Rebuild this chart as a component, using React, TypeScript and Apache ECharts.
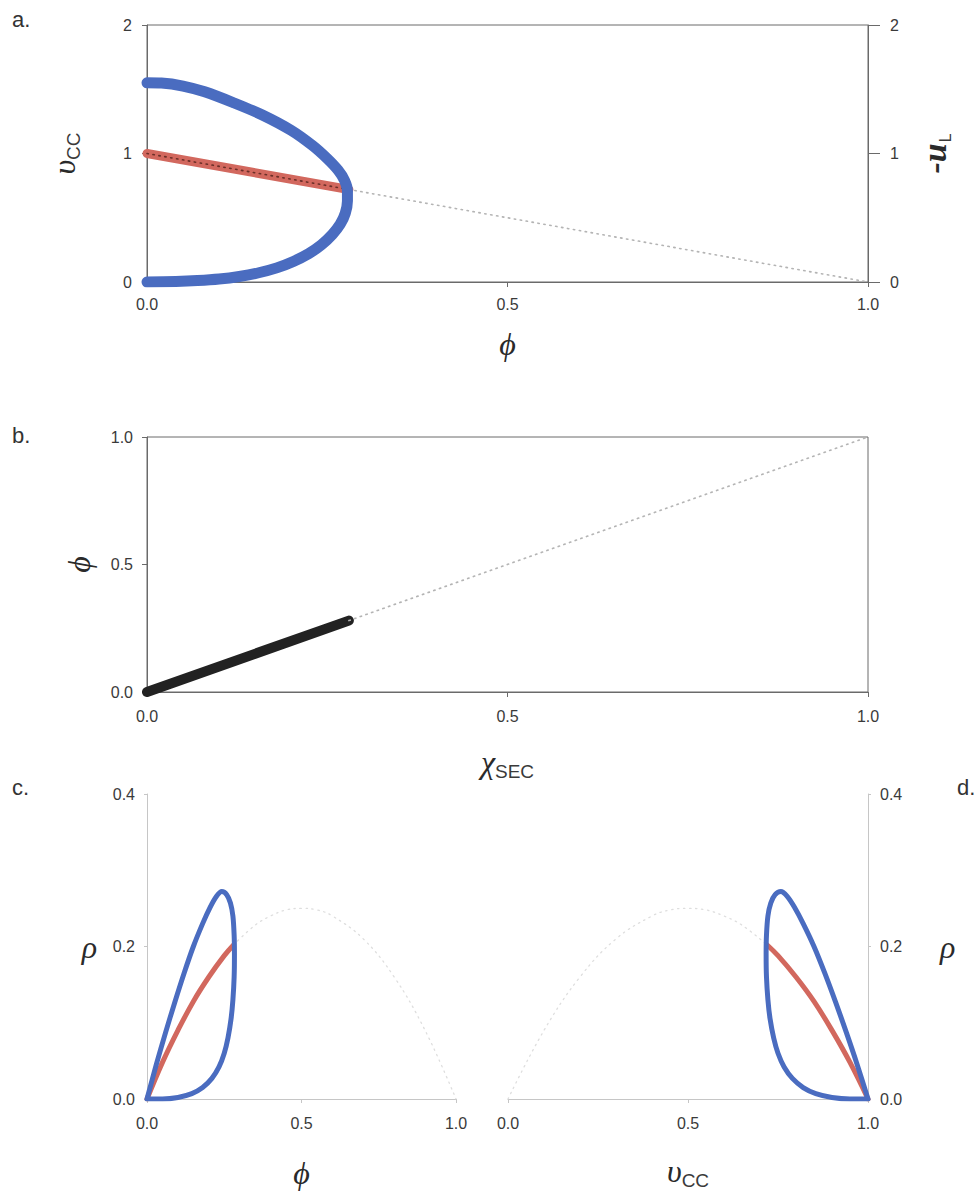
import React, { useEffect, useRef } from 'react';
import * as echarts from 'echarts';

// ---- Panel a: velocity branches against phi ----
const aBluePhi = [0, 0.02, 0.05, 0.08, 0.12, 0.16, 0.2, 0.23, 0.25, 0.265, 0.274, 0.278, 0.278, 0.275, 0.268, 0.257, 0.242, 0.224, 0.203, 0.18, 0.155, 0.128, 0.1, 0.07, 0.04, 0];
const aBlueV = [1.55, 1.548, 1.525, 1.48, 1.395, 1.3, 1.18, 1.06, 0.96, 0.87, 0.79, 0.71, 0.63, 0.535, 0.45, 0.37, 0.29, 0.22, 0.16, 0.11, 0.072, 0.043, 0.023, 0.011, 0.004, 0];
const aRedPhi = [0, 0.28];
const aRedV = [1, 0.72];
const aGuidePhi = [0.28, 1];
const aGuideV = [0.72, 0];

// ---- Panel b: phi against chi_SEC ----
const bChi = [0, 0.28];
const bPhi = [0, 0.28];
const bGuideChi = [0.28, 1];
const bGuidePhi = [0.28, 1];

// ---- Panel c: rho against phi ----
const cBluePhi = [0, 0.03, 0.06, 0.09, 0.12, 0.15, 0.18, 0.205, 0.225, 0.242, 0.258, 0.27, 0.278, 0.282, 0.283, 0.282, 0.278, 0.272, 0.262, 0.25, 0.233, 0.21, 0.18, 0.145, 0.1, 0.05, 0];
const cBlueRho = [0, 0.045, 0.087, 0.127, 0.165, 0.2, 0.23, 0.252, 0.266, 0.272, 0.268, 0.257, 0.24, 0.215, 0.19, 0.16, 0.13, 0.105, 0.08, 0.06, 0.042, 0.027, 0.015, 0.007, 0.002, 0, 0];
const cRedPhi = [0, 0.05, 0.1, 0.15, 0.2, 0.25, 0.28];
const cRedRho = [0, 0.048, 0.09, 0.128, 0.16, 0.188, 0.202];
const cGuidePhi = [0.28, 0.35, 0.4, 0.45, 0.5, 0.55, 0.6, 0.7, 0.8, 0.9, 1.0];
const cGuideRho = [0.202, 0.228, 0.24, 0.248, 0.25, 0.248, 0.24, 0.21, 0.16, 0.09, 0];

// ---- Panel d: rho against upsilon_CC ----
const dBlueV = [1, 0.97, 0.94, 0.91, 0.88, 0.85, 0.82, 0.795, 0.775, 0.758, 0.742, 0.73, 0.722, 0.718, 0.717, 0.718, 0.722, 0.728, 0.738, 0.75, 0.767, 0.79, 0.82, 0.855, 0.9, 0.95, 1];
const dBlueRho = [0, 0.045, 0.087, 0.127, 0.165, 0.2, 0.23, 0.252, 0.266, 0.272, 0.268, 0.257, 0.24, 0.215, 0.19, 0.16, 0.13, 0.105, 0.08, 0.06, 0.042, 0.027, 0.015, 0.007, 0.002, 0, 0];
const dRedV = [0.72, 0.75, 0.8, 0.85, 0.9, 0.95, 1.0];
const dRedRho = [0.202, 0.188, 0.16, 0.128, 0.09, 0.048, 0];
const dGuideV = [0, 0.1, 0.2, 0.3, 0.4, 0.45, 0.5, 0.55, 0.6, 0.65, 0.72];
const dGuideRho = [0, 0.09, 0.16, 0.21, 0.24, 0.248, 0.25, 0.248, 0.24, 0.228, 0.202];

const panelLetters = ['a.', 'b.', 'c.', 'd.'];

const BLUE = '#4a6cc0';
const RED = '#d2685e';
const BLACK = '#222222';
const GUIDE = '#b4b4b4';
const GUIDE_FAINT = '#dedede';
const AXIS_DARK = '#6a6a6a';
const AXIS_LIGHT = '#c6c6c6';
const LABEL = '#3a3a3a';
const SANS = "'Liberation Sans', Arial, sans-serif";
const SERIF = "'Liberation Serif', 'DejaVu Serif', serif";

const zip = (xs: number[], ys: number[]) => xs.map((x, i) => [x, ys[i]]);

const rich = {
  g: { fontFamily: SERIF, fontStyle: 'italic', fontSize: 32, color: '#2a2a2a' },
  s: { fontFamily: SANS, fontSize: 19, color: '#3a3a3a', verticalAlign: 'bottom', padding: [20, 0, 0, 0] },
  b: { fontFamily: SERIF, fontStyle: 'italic', fontWeight: 'bold', fontSize: 34, color: '#2a2a2a' },
  l: { fontFamily: SANS, fontSize: 16, color: '#3a3a3a', verticalAlign: 'bottom', padding: [22, 0, 0, 1] },
};

function axis(opts: any) {
  const color = opts.light ? AXIS_LIGHT : AXIS_DARK;
  return {
    type: 'value',
    gridIndex: opts.grid,
    position: opts.position,
    min: opts.min,
    max: opts.max,
    interval: opts.interval,
    axisLine: { show: true, onZero: false, lineStyle: { color, width: 1 } },
    axisTick: { show: true, inside: false, length: opts.tickLen ?? 5, lineStyle: { color } },
    axisLabel: {
      margin: opts.margin,
      color: LABEL,
      fontSize: 16,
      fontFamily: SANS,
      formatter: (v: number) => (opts.digits ? v.toFixed(opts.digits) : String(v)),
    },
    splitLine: { show: false },
    name: opts.name,
    nameLocation: 'middle',
    nameGap: opts.nameGap,
    nameRotate: opts.nameRotate,
    nameTextStyle: { rich },
  };
}

function thick(x: number, y: number, data: number[][], color: string, width: number, smooth: number | boolean = false, z = 2) {
  return {
    type: 'line',
    xAxisIndex: x,
    yAxisIndex: y,
    data,
    symbol: 'none',
    smooth,
    z,
    silent: true,
    lineStyle: { color, width, cap: 'round', join: 'round' },
  };
}

function dotted(x: number, y: number, data: number[][], color: string, width = 1.6, smooth: number | boolean = false, z = 3) {
  return {
    type: 'line',
    xAxisIndex: x,
    yAxisIndex: y,
    data,
    symbol: 'none',
    smooth,
    z,
    silent: true,
    lineStyle: { color, width, type: [1.4, 4.6], cap: 'round' },
  };
}

export default function App() {
  const ref = useRef<HTMLDivElement>(null);

  useEffect(() => {
    if (!ref.current) return;
    const chart = echarts.init(ref.current, null, { renderer: 'svg' });

    const letterPos = [
      [12, 19],
      [12, 435],
      [12, 787],
      [957, 787],
    ];

    chart.setOption({
      animation: false,
      backgroundColor: '#ffffff',
      grid: [
        { left: 147, top: 25, width: 721, height: 257, show: true, borderColor: AXIS_DARK, borderWidth: 1, backgroundColor: 'transparent' },
        { left: 147, top: 437, width: 721, height: 255, show: true, borderColor: AXIS_DARK, borderWidth: 1, backgroundColor: 'transparent' },
        { left: 147, top: 794, width: 309, height: 305 },
        { left: 508, top: 794, width: 360, height: 305 },
      ],
      xAxis: [
        axis({ grid: 0, min: 0, max: 1, interval: 0.5, digits: 1, margin: 14, name: '{g|ϕ}', nameGap: 46 }),
        axis({ grid: 1, min: 0, max: 1, interval: 0.5, digits: 1, margin: 16, name: '{g|χ}{s|SEC}', nameGap: 50 }),
        axis({ grid: 2, min: 0, max: 1, interval: 0.5, digits: 1, margin: 16, light: true, tickLen: 4, name: '{g|ϕ}', nameGap: 58 }),
        axis({ grid: 3, min: 0, max: 1, interval: 0.5, digits: 1, margin: 16, light: true, tickLen: 4, name: '{g|υ}{s|CC}', nameGap: 52 }),
      ],
      yAxis: [
        axis({ grid: 0, min: 0, max: 2, interval: 1, margin: 15, position: 'left', name: '{g|υ}{s|CC}', nameGap: 64, nameRotate: 90 }),
        axis({ grid: 0, min: 0, max: 2, interval: 1, margin: 22, position: 'right', tickLen: 12, name: '{b|-u}{l|L}', nameGap: 47, nameRotate: 90 }),
        axis({ grid: 1, min: 0, max: 1, interval: 0.5, digits: 1, margin: 14, position: 'left', name: '{g|ϕ}', nameGap: 52, nameRotate: 90 }),
        axis({ grid: 2, min: 0, max: 0.4, interval: 0.2, digits: 1, margin: 12, position: 'left', light: true, tickLen: 3, name: '{g|ρ}', nameGap: 50, nameRotate: 0 }),
        axis({ grid: 3, min: 0, max: 0.4, interval: 0.2, digits: 1, margin: 12, position: 'right', light: true, tickLen: 3, name: '{g|ρ}', nameGap: 72, nameRotate: 0 }),
      ],
      graphic: panelLetters.map((t, i) => ({
        type: 'text',
        x: letterPos[i][0],
        y: letterPos[i][1],
        silent: true,
        style: { text: t, fontSize: 22, fontFamily: SANS, fill: '#333333', verticalAlign: 'middle' },
      })),
      series: [
        // panel a
        dotted(0, 0, zip(aGuidePhi, aGuideV), GUIDE),
        thick(0, 0, zip(aRedPhi, aRedV), RED, 9, false, 2),
        dotted(0, 0, zip(aRedPhi, aRedV), '#6b2f28', 1.6, false, 3),
        thick(0, 0, zip(aBluePhi, aBlueV), BLUE, 11, 0.3, 4),
        // panel b
        dotted(1, 2, zip(bGuideChi, bGuidePhi), GUIDE),
        thick(1, 2, zip(bChi, bPhi), BLACK, 10),
        // panel c
        dotted(2, 3, zip(cGuidePhi, cGuideRho), GUIDE_FAINT, 1.3, 0.4),
        thick(2, 3, zip(cRedPhi, cRedRho), RED, 5, 0.4, 2),
        thick(2, 3, zip(cBluePhi, cBlueRho), BLUE, 5, 0.3, 4),
        // panel d
        dotted(3, 4, zip(dGuideV, dGuideRho), GUIDE_FAINT, 1.3, 0.4),
        thick(3, 4, zip(dRedV, dRedRho), RED, 5, 0.4, 2),
        thick(3, 4, zip(dBlueV, dBlueRho), BLUE, 5, 0.3, 4),
      ],
    });

    return () => chart.dispose();
  }, []);

  return (
    <div
      ref={ref}
      style={{ position: 'absolute', left: 0, top: 0, width: 978, height: 1191, background: '#fff' }}
    />
  );
}
